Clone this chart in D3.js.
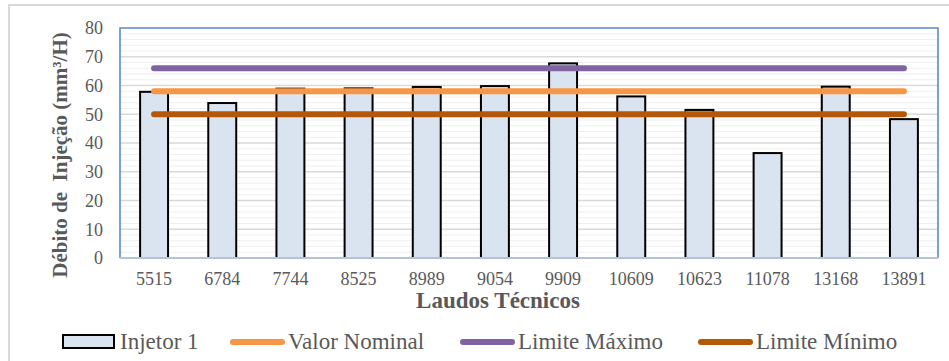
<!DOCTYPE html>
<html>
<head>
<meta charset="utf-8">
<script src="https://cdn.jsdelivr.net/npm/d3@7/dist/d3.min.js"></script>
<style>
  html, body { margin: 0; padding: 0; background: #fff; }
  svg { display: block; }
</style>
</head>
<body>
<svg id="chart" width="949" height="361"></svg>
<script>
// Technical reports (x categories)
const laudos = ["5515", "6784", "7744", "8525", "8989", "9054", "9909", "10609", "10623", "11078", "13168", "13891"];
// Injection flow of injector 1 (mm³/H)
const injetor1 = [57.8, 53.9, 58.9, 59, 59.5, 59.8, 67.7, 56.2, 51.5, 36.5, 59.6, 48.3];
// Reference lines
const valorNominal = [58, 58, 58, 58, 58, 58, 58, 58, 58, 58, 58, 58];
const limiteMaximo = [66, 66, 66, 66, 66, 66, 66, 66, 66, 66, 66, 66];
const limiteMinimo = [50, 50, 50, 50, 50, 50, 50, 50, 50, 50, 50, 50];
const yTicks = [0, 10, 20, 30, 40, 50, 60, 70, 80];

const FONT = "'Liberation Serif', 'Tinos', monospace";
const colors = {
  bar: "#dae3f0",
  nominal: "#f79646",
  maximo: "#8064a2",
  minimo: "#b65708",
  text: "#595959"
};

const svg = d3.select("#chart");
const plot = { left: 120, top: 28, right: 938, bottom: 258 };

// Outer chart frame (only top/left edges visible)
svg.append("path")
  .attr("d", "M9,361 V5 H949")
  .attr("fill", "none")
  .attr("stroke", "#d9d9d9")
  .attr("stroke-width", 2);

const x = d3.scaleBand()
  .domain(laudos)
  .range([plot.left, plot.right])
  .paddingInner(0.59)
  .paddingOuter(0.295);

const y = d3.scaleLinear().domain([0, 80]).range([plot.bottom, plot.top]);

// Minor gridlines
svg.append("g").selectAll("line")
  .data(y.ticks(40).filter(v => v % 10 !== 0))
  .join("line")
  .attr("x1", plot.left).attr("x2", plot.right)
  .attr("y1", d => y(d)).attr("y2", d => y(d))
  .attr("stroke", "#efefef").attr("stroke-width", 1.2);

// Major gridlines
svg.append("g").selectAll("line")
  .data(yTicks.filter(v => v > 0 && v < 80))
  .join("line")
  .attr("x1", plot.left).attr("x2", plot.right)
  .attr("y1", d => y(d)).attr("y2", d => y(d))
  .attr("stroke", "#d9d9d9").attr("stroke-width", 1.5);

// Plot area border
svg.append("path")
  .attr("d", `M${plot.left},${plot.bottom} V${plot.top} H${plot.right} V${plot.bottom}`)
  .attr("fill", "none")
  .attr("stroke", "#5b8bc8")
  .attr("stroke-width", 1.6);

// Bars
svg.append("g").selectAll("rect")
  .data(injetor1)
  .join("rect")
  .attr("x", (d, i) => x(laudos[i]))
  .attr("y", d => y(d))
  .attr("width", x.bandwidth())
  .attr("height", d => y(0) - y(d))
  .attr("fill", colors.bar)
  .attr("stroke", "#000")
  .attr("stroke-width", 2);

// Category axis line
svg.append("line")
  .attr("x1", plot.left).attr("x2", plot.right)
  .attr("y1", y(0)).attr("y2", y(0))
  .attr("stroke", "#b4c3dc").attr("stroke-width", 2);

// Reference lines
const line = d3.line()
  .x((d, i) => x(laudos[i]) + x.bandwidth() / 2)
  .y(d => y(d));

[[limiteMaximo, colors.maximo], [valorNominal, colors.nominal], [limiteMinimo, colors.minimo]]
  .forEach(([vals, c]) => {
    svg.append("path")
      .attr("d", line(vals))
      .attr("fill", "none")
      .attr("stroke", c)
      .attr("stroke-width", 6)
      .attr("stroke-linecap", "round");
  });

// Y axis labels
const yAxis = d3.axisLeft(y).tickValues(yTicks).tickSize(0).tickPadding(0);
svg.append("g")
  .attr("transform", `translate(103,0)`)
  .call(yAxis)
  .call(g => g.select(".domain").remove())
  .call(g => g.selectAll("text")
    .style("font-family", FONT)
    .style("font-size", "18px")
    .attr("fill", colors.text));

// X axis labels
const xAxis = d3.axisBottom(x).tickSize(0).tickPadding(0);
svg.append("g")
  .attr("transform", `translate(0,272)`)
  .call(xAxis)
  .call(g => g.select(".domain").remove())
  .call(g => g.selectAll("text")
    .style("font-family", FONT)
    .style("font-size", "18px")
    .attr("fill", colors.text));

// Axis titles
svg.append("text")
  .attr("x", 498)
  .attr("y", 308)
  .attr("text-anchor", "middle")
  .style("font-family", FONT)
  .style("font-size", "23px")
  .style("font-weight", "bold")
  .attr("fill", colors.text)
  .text("Laudos Técnicos");

svg.append("text")
  .attr("transform", "translate(67,155) rotate(-90)")
  .attr("text-anchor", "middle")
  .style("font-family", FONT)
  .style("font-size", "21px")
  .style("font-weight", "bold")
  .style("white-space", "pre")
  .attr("fill", colors.text)
  .text("Débito de  Injeção (mm³/H)");

// Legend
const legend = svg.append("g");
const legY = 342;
legend.append("rect")
  .attr("x", 63).attr("y", 335)
  .attr("width", 51).attr("height", 13)
  .attr("fill", colors.bar).attr("stroke", "#000").attr("stroke-width", 2);
legend.append("text")
  .attr("x", 120).attr("y", 349)
  .style("font-family", FONT)
  .style("font-size", "23px")
  .attr("fill", colors.text)
  .text("Injetor 1");

const legItems = [
  { x0: 233, label: "Valor Nominal", color: colors.nominal },
  { x0: 463, label: "Limite Máximo", color: colors.maximo },
  { x0: 701, label: "Limite Mínimo", color: colors.minimo }
];
legItems.forEach(it => {
  legend.append("line")
    .attr("x1", it.x0).attr("x2", it.x0 + 49)
    .attr("y1", legY).attr("y2", legY)
    .attr("stroke", it.color).attr("stroke-width", 6)
    .attr("stroke-linecap", "round");
  legend.append("text")
    .attr("x", it.x0 + 55).attr("y", 349)
    .style("font-family", FONT)
    .style("font-size", "23px")
    .attr("fill", colors.text)
    .text(it.label);
});
</script>
</body>
</html>
